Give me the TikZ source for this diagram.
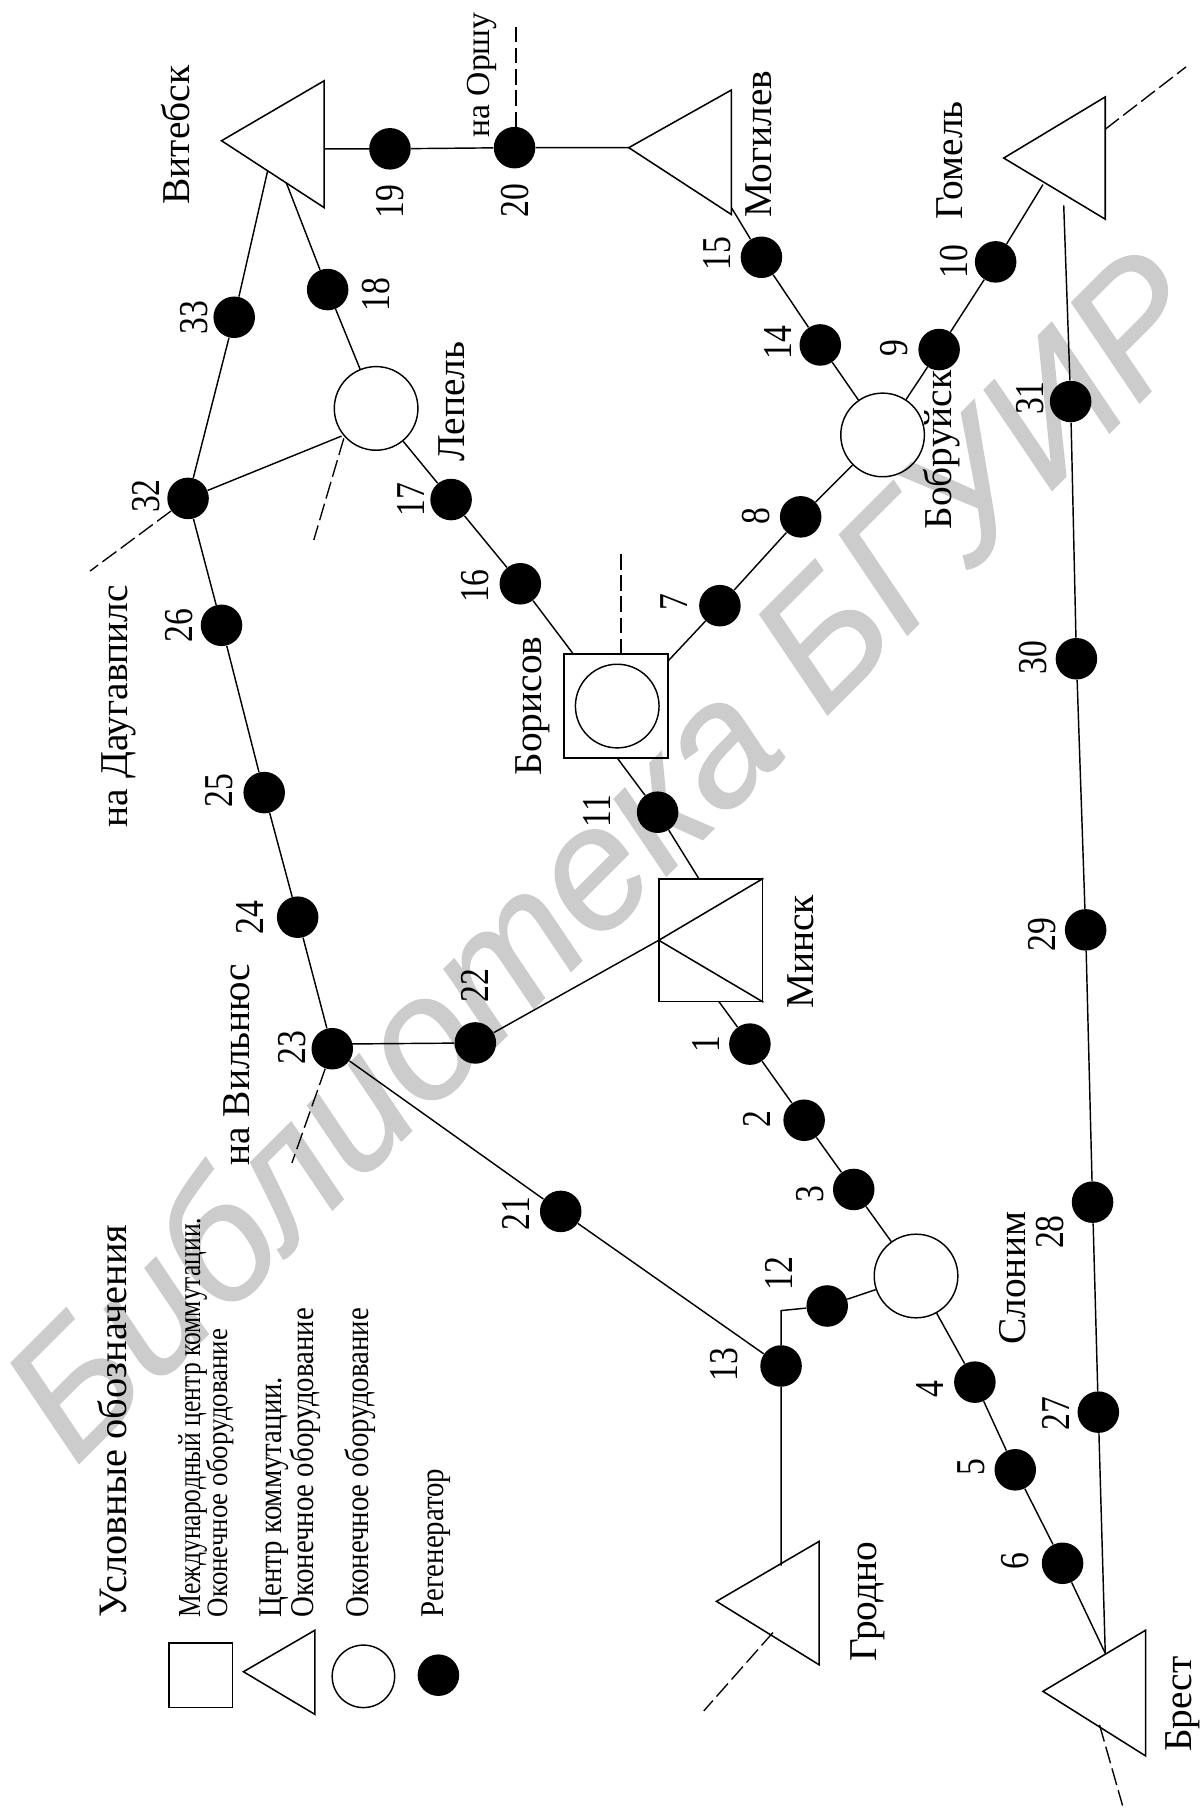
\documentclass[tikz,border=0pt]{standalone}
\usepackage{fontspec}
\setmainfont{Liberation Serif}
\newfontfamily\wmfont{Liberation Sans}
\newcommand{\tallnum}[1]{\scalebox{1}[1.22]{#1}}
\newcommand{\talltxt}[2]{\scalebox{1}[#1]{#2}}
\tikzset{
  reg/.style={circle,fill=black,draw=none,inner sep=0pt,minimum size=21.6pt},
  oval/.style={circle,draw=black,line width=0.75pt,inner sep=0pt,minimum size=43.5pt},
  conn/.style={line width=0.75pt},
  tail/.style={line width=0.7pt,dash pattern=on 9pt off 2.8pt},
  boldtail/.style={line width=1.1pt,dash pattern=on 8pt off 3pt},
  shapeline/.style={line width=0.8pt},
  num/.style={rotate=90,inner sep=0pt,font=\fontsize{17.5}{17.5}\selectfont},
  city/.style={rotate=90,inner sep=0pt,font=\fontsize{20.5}{20.5}\selectfont},
  legend/.style={rotate=90,inner sep=0pt,anchor=base west,font=\fontsize{15}{15}\selectfont},
}
\begin{document}
\begin{tikzpicture}[x=0.6pt,y=-0.6pt]
\useasboundingbox (0,0) rectangle (1042,1568);
% watermark
\node[rotate=45,inner sep=0pt,anchor=base west,text=black!20,font=\wmfont\itshape\addfontfeature{FakeBold=0.8}\fontsize{90}{90}\selectfont] (wm) at (65,1272) {Библиотека БГУИР};
% regenerators
\foreach \n/\x/\y in {1/650/905,2/697/971,3/740/1031,4/845/1198,5/880/1274,6/921/1355,7/624/525,8/694/448,9/814/303,10/863/227,11/570/704,12/717/1132,13/677/1184,14/711/299,15/660/223,16/451/506,17/391/433,18/284/251,19/338/129,20/446/128,21/486/1050,22/412/904,23/288/909,24/258/795,25/229/687,26/192/542,27/952/1224,28/947/1042,29/941/806,30/933/571,31/928/348,32/163/432,33/203/275}
  {\node[reg] (r\n) at (\x,\y) {};}
% numbers
\foreach \n/\x/\y in {1/612/905,2/656/970,3/702/1035,4/806/1204,5/842/1272,6/880/1353,7/584/522,8/655/447,9/775/302,10/827/227,11/517/703,12/675/1104,13/628/1183,14/674/297,15/622/220,16/412/508,17/356/433,18/326/255,19/338/175,20/446/174,21/447/1052,22/412/854,23/253/908,24/217/795,25/190/685,26/155/542,27/915/1225,28/910/1068,29/903/810,30/895/570,31/893/345,32/127/430,33/168/275}
  {\node[num] (n\n) at (\x,\y) {\tallnum{\n}};}
% stations
\node[oval] (lepel) at (326,354) {};
\node[oval] (bobr) at (765,377) {};
\node[oval] (slon) at (794,1106) {};
\node[draw,shapeline,minimum size=54pt,inner sep=0pt] (bor) at (534,612) {};
\node[oval] (borc) at (535,612) {};
\node[draw,shapeline,minimum width=54pt,minimum height=63.6pt,inner sep=0pt] (min) at (616,815) {};
\coordinate (minL) at (571,815);
\draw[shapeline] (min.north east) -- (minL) -- (min.south east);
% triangles
\coordinate (vitA) at (192,122); \coordinate (vitB) at (281,70); \coordinate (vitC) at (281,180);
\coordinate (mogA) at (545,128); \coordinate (mogB) at (634,78); \coordinate (mogC) at (634,186);
\coordinate (gomA) at (870,137); \coordinate (gomB) at (958,84); \coordinate (gomC) at (958,190);
\coordinate (groA) at (621,1388); \coordinate (groB) at (710,1336); \coordinate (groC) at (710,1443);
\coordinate (breA) at (904,1466); \coordinate (breB) at (993,1413); \coordinate (breC) at (993,1522);
\draw[shapeline] (vitA) -- (vitB) -- (vitC) -- cycle;
\draw[shapeline] (mogA) -- (mogB) -- (mogC) -- cycle;
\draw[shapeline] (gomA) -- (gomB) -- (gomC) -- cycle;
\draw[shapeline] (groA) -- (groB) -- (groC) -- cycle;
\draw[shapeline] (breA) -- (breB) -- (breC) -- cycle;
% connector anchor points
\coordinate (vitE) at (281,129); \coordinate (vitF) at (248,158); \coordinate (vitG) at (232,148);
\coordinate (mogF) at (634,180); \coordinate (gomF) at (904,160); \coordinate (gomG) at (922,178);
\coordinate (groF) at (677,1357); \coordinate (breF) at (958,1433);
\coordinate (borN) at (497,567); \coordinate (borE) at (579,573); \coordinate (borS) at (535,657);
\coordinate (minN) at (606,762); \coordinate (minS) at (623,868);
\coordinate (k12) at (677,1136); \coordinate (lepW) at (296,378); \coordinate (k23) at (288,905);
% connectors
\draw[conn] (vitE) -- (r19) -- (r20) -- (mogA);
\draw[conn] (vitF) -- (r18) -- (lepel);
\draw[conn] (vitG) -- (r33) -- (r32) -- (lepW);
\draw[conn] (lepel) -- (r17) -- (r16) -- (borN);
\draw[conn] (borE) -- (r7) -- (r8) -- (bobr);
\draw[conn] (bobr) -- (r9) -- (r10) -- (gomF);
\draw[conn] (bobr) -- (r14) -- (r15) -- (mogF);
\draw[conn] (r32) -- (r26) -- (r25) -- (r24) -- (r23);
\draw[conn] (r22) -- (k23);
\draw[conn] (r22) -- (minL);
\draw[conn] (r23) -- (r21) -- (r13) -- (groF);
\draw[conn] (r13) -- (k12) -- (r12) -- (slon);
\draw[conn] (borS) -- (r11) -- (minN);
\draw[conn] (minS) -- (r1) -- (r2) -- (r3) -- (slon);
\draw[conn] (slon) -- (r4) -- (r5) -- (r6) -- (breF);
\draw[conn] (gomG) -- (r31) -- (r30) -- (r29) -- (r28) -- (r27) -- (breF);
% dashed tails
\coordinate (t20S) at (447,110); \coordinate (t20) at (447,23); \coordinate (tgomS) at (958,112); \coordinate (tgom) at (1028,58);
\coordinate (tlepS) at (298,380); \coordinate (tlep) at (272,468); \coordinate (t32) at (78,495);
\coordinate (tborS) at (538,567); \coordinate (tbor) at (538,478); \coordinate (t23) at (253,1008);
\coordinate (tgroS) at (670,1415); \coordinate (tgro) at (610,1483);
\coordinate (tbreS) at (953,1495); \coordinate (tbre) at (973,1565);
\draw[boldtail] (t20S) -- (t20);
\draw[tail] (tgomS) -- (tgom);
\draw[tail] (tlepS) -- (tlep);
\draw[tail] (r32) -- (t32);
\draw[boldtail] (tborS) -- (tbor);
\draw[tail] (r23) -- (t23);
\draw[tail] (tgroS) -- (tgro);
\draw[tail] (tbreS) -- (tbre);
% city labels
\node[city] (lvit) at (152,117) {Витебск};
\node[city] (lmog) at (658,125) {Могилев};
\node[city] (lgom) at (823,139) {Гомель};
\node[city] (llep) at (392,348) {Лепель};
\node[city] (lbob) at (816,390) {Бобруйск};
\node[city] (lbor) at (462,612) {Борисов};
\node[city] (lmin) at (694,825) {Минск};
\node[city] (lslo) at (878,1108) {Слоним};
\node[city] (lgro) at (752,1388) {Гродно};
\node[city] (lbre) at (1025,1477) {Брест};
\node[city] (ldau) at (103,612) {на Даугавпилс};
\node[city] (lvil) at (205,923) {на Вильнюс};
\node[num] (lors) at (418,65) {на Оршу};
% legend
\node[legend,font=\fontsize{21}{21}\selectfont] (ltit) at (110,1402) {Условные обозначения};
\node[legend,font=\fontsize{13.3}{13.3}\selectfont] (lt1) at (173.5,1402) {\talltxt{1.25}{Международный центр коммутации.}};
\node[legend,font=\fontsize{14}{14}\selectfont] (lt2) at (197,1402) {\talltxt{1.1}{Оконечное оборудование}};
\node[legend] (lt3) at (244,1402) {\talltxt{1.15}{Центр коммутации.}};
\node[legend] (lt4) at (272,1402) {\talltxt{1.15}{Оконечное оборудование}};
\node[legend] (lt5) at (319,1402) {\talltxt{1.15}{Оконечное оборудование}};
\node[legend] (lt6) at (384,1402) {\talltxt{1.15}{Регенератор}};
\node[draw,shapeline,minimum width=33pt,minimum height=33.6pt,inner sep=0pt] (ks) at (174,1452) {};
\coordinate (ktA) at (211,1449); \coordinate (ktB) at (273,1413); \coordinate (ktC) at (273,1486);
\draw[shapeline] (ktA) -- (ktB) -- (ktC) -- cycle;
\node[oval,minimum size=32.5pt] (ko) at (315,1453) {};
\node[reg] (kr) at (380,1452) {};
\end{tikzpicture}
\end{document}
